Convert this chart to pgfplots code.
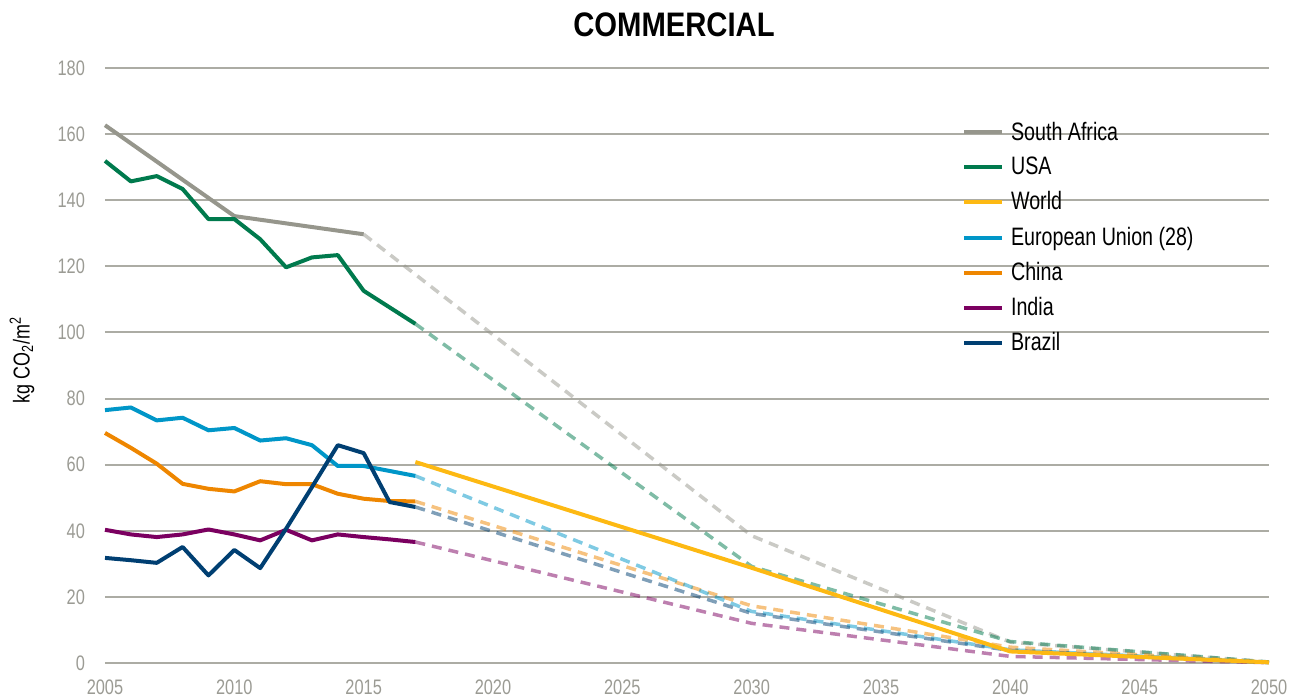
\documentclass[border=0pt]{standalone}
\usepackage{pgfplots}
\pgfplotsset{compat=1.18}
\usepackage{fontspec}
\setmainfont{Liberation Sans}[FakeStretch=0.78]
\newfontfamily\titlefont{Liberation Sans}[FakeStretch=0.86]
\definecolor{csa}{RGB}{150,150,140}
\definecolor{cusa}{RGB}{0,122,77}
\definecolor{cworld}{RGB}{253,185,19}
\definecolor{ceu}{RGB}{0,150,200}
\definecolor{cchina}{RGB}{238,134,0}
\definecolor{cindia}{RGB}{123,0,96}
\definecolor{cbrazil}{RGB}{0,63,114}
\definecolor{gridc}{RGB}{172,172,164}
\definecolor{tickc}{RGB}{155,155,148}
\begin{document}
\begin{tikzpicture}
\path[use as bounding box] (-52.5pt,-17.5pt) rectangle (597pt,331.5pt);
\begin{axis}[
  at={(0,0)}, anchor=south west,
  scale only axis, width=582pt, height=297.5pt,
  xmin=2005, xmax=2050, ymin=0, ymax=180,
  axis line style={draw=none},
  major tick length=0pt,
  xtick={2005,2010,...,2050}, ytick={0,20,...,180},
  ymajorgrids, grid style={gridc, line width=1pt},
  /pgf/number format/assume math mode=true,
  /pgf/number format/1000 sep={},
  tick label style={font=\fontsize{10.5}{12}\selectfont, text=tickc},
  xticklabel style={yshift=-5pt},
  yticklabel style={xshift=-6.5pt},
  clip=false,
  legend style={at={(rel axis cs:0.736,0.917)}, anchor=north west, draw=none, fill=none,
    font=\fontsize{12.6}{14}\selectfont, row sep=3pt, inner sep=0pt,
    /tikz/every odd column/.append style={column sep=1.5pt}},
  legend cell align=left,
  legend image code/.code={\draw[#1, line width=2pt] (0pt,0pt) -- (19pt,0pt);},
  every axis plot/.append style={line join=round},
]
% projections (dashed)
\addplot[forget plot, csa, opacity=0.5, line width=1.75pt, dash pattern=on 5pt off 3.5pt] coordinates {(2015,129.7)(2030,38.5)(2040,6.3)(2050,0.3)};
\addplot[forget plot, cusa, opacity=0.5, line width=1.75pt, dash pattern=on 5pt off 3.5pt] coordinates {(2017,102.6)(2030,29.2)(2040,6.5)(2050,0.3)};
\addplot[forget plot, cchina, opacity=0.5, line width=1.75pt, dash pattern=on 5pt off 3.5pt] coordinates {(2017,48.9)(2030,17.3)(2040,4.8)(2050,0.2)};
\addplot[forget plot, ceu, opacity=0.5, line width=1.75pt, dash pattern=on 5pt off 3.5pt] coordinates {(2017,56.6)(2030,15.6)(2040,4.0)(2050,0.2)};
\addplot[forget plot, cbrazil, opacity=0.5, line width=1.75pt, dash pattern=on 5pt off 3.5pt] coordinates {(2017,47.2)(2030,15.0)(2040,3.8)(2050,0.1)};
\addplot[forget plot, cindia, opacity=0.5, line width=1.75pt, dash pattern=on 5pt off 3.5pt] coordinates {(2017,36.6)(2030,12.0)(2040,2.0)(2050,0.1)};
% historical (solid)
\addplot[csa, line width=2pt] coordinates {(2005,162.7)(2010,135.2)(2015,129.7)};
\addlegendentry{South Africa}
\addplot[cusa, line width=2pt] coordinates {(2005,151.9)(2006,145.7)(2007,147.3)(2008,143.4)(2009,134.3)(2010,134.3)(2011,128.2)(2012,119.7)(2013,122.7)(2014,123.4)(2015,112.6)(2016,107.6)(2017,102.6)};
\addlegendentry{USA}
\addplot[cworld, line width=2pt] coordinates {(2017,60.8)(2030,28.8)(2040,3.5)(2050,0.2)};
\addlegendentry{World}
\addplot[ceu, line width=2pt] coordinates {(2005,76.5)(2006,77.3)(2007,73.4)(2008,74.2)(2009,70.4)(2010,71.1)(2011,67.3)(2012,68.0)(2013,65.9)(2014,59.6)(2015,59.6)(2016,58.1)(2017,56.6)};
\addlegendentry{European Union (28)}
\addplot[cchina, line width=2pt] coordinates {(2005,69.6)(2006,65.1)(2007,60.3)(2008,54.2)(2009,52.7)(2010,51.9)(2011,55.0)(2012,54.1)(2013,54.1)(2014,51.2)(2015,49.7)(2016,49.0)(2017,48.9)};
\addlegendentry{China}
\addplot[cindia, line width=2pt] coordinates {(2005,40.3)(2006,38.9)(2007,38.1)(2008,38.9)(2009,40.4)(2010,38.9)(2011,37.1)(2012,40.3)(2013,37.1)(2014,38.9)(2015,38.1)(2016,37.4)(2017,36.6)};
\addlegendentry{India}
\addplot[cbrazil, line width=2pt] coordinates {(2005,31.8)(2006,31.1)(2007,30.3)(2008,35.1)(2009,26.5)(2010,34.2)(2011,28.7)(2012,40.6)(2013,53.2)(2014,65.9)(2015,63.5)(2016,48.7)(2017,47.2)};
\addlegendentry{Brazil}
\end{axis}
\node[font=\titlefont\bfseries\fontsize{17}{20}\selectfont] at (284.5pt,319pt) {COMMERCIAL};
\node[rotate=90, font=\fontsize{11.5}{13}\selectfont] at (-41.5pt,151.5pt) {kg CO\textsubscript{2}/m\textsuperscript{2}};
\end{tikzpicture}
\end{document}
